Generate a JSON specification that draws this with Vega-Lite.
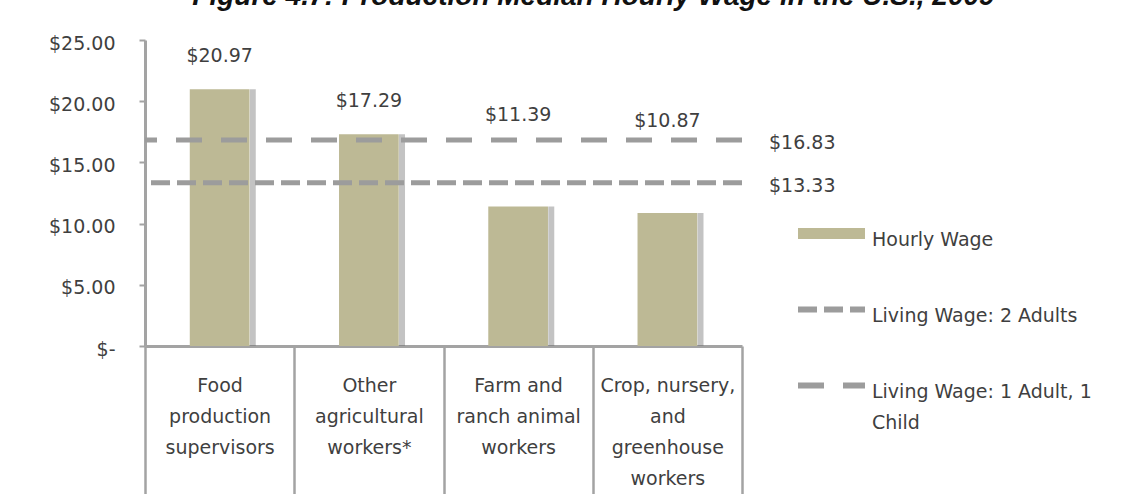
{
  "$schema": "https://vega.github.io/schema/vega-lite/v6.json",
  "width": 597,
  "height": 306,
  "autosize": {"type": "none"},
  "padding": {"left": 145, "top": 40, "right": 392, "bottom": 148},
  "title": {
    "text": "Figure 4.7: Production Median Hourly Wage in the U.S., 2009",
    "font": "Liberation Sans",
    "fontSize": 28,
    "fontWeight": "bold",
    "fontStyle": "italic",
    "color": "#111111",
    "anchor": "middle",
    "dx": 150,
    "offset": 23
  },
  "datasets": {
    "wages": [
      {"category": "Food production supervisors", "wage": 20.97},
      {"category": "Other agricultural workers*", "wage": 17.29},
      {"category": "Farm and ranch animal workers", "wage": 11.39},
      {"category": "Crop, nursery, and greenhouse workers", "wage": 10.87}
    ],
    "living": [
      {"series": "Living Wage: 1 Adult, 1 Child", "value": 16.83},
      {"series": "Living Wage: 2 Adults", "value": 13.33}
    ]
  },
  "config": {
    "view": {"stroke": null},
    "font": "DejaVu Sans",
    "axis": {"title": null, "grid": false}
  },
  "layer": [
    {
      "data": {"name": "wages"},
      "mark": {"type": "rule", "color": "#6a6a6a", "strokeWidth": 6, "opacity": 0.4},
      "encoding": {
        "x": {"field": "category", "type": "nominal", "bandPosition": 0.722, "title": null,
              "scale": {"domain": ["Food production supervisors", "Other agricultural workers*", "Farm and ranch animal workers", "Crop, nursery, and greenhouse workers"], "paddingInner": 0, "paddingOuter": 0}},
        "y": {"field": "wage", "type": "quantitative", "title": null, "scale": {"domain": [0, 25], "nice": false}},
        "y2": {"datum": 0}
      }
    },
    {
      "data": {"name": "wages"},
      "mark": {"type": "bar", "color": "#bdb995", "width": {"band": 0.4}},
      "encoding": {
        "x": {
          "field": "category", "type": "nominal", "sort": null, "title": null,
          "axis": {
            "tickBand": "extent",
            "tickSize": 148,
            "tickColor": "#a3a3a3",
            "tickWidth": 2.5,
            "domainColor": "#a3a3a3",
            "domainWidth": 3,
            "labelAngle": 0,
            "labelAlign": "center",
            "labelPadding": -118,
            "labelBaseline": "top",
            "labelLineHeight": 31,
            "labelFontSize": 19,
            "labelFont": "DejaVu Sans",
            "labelColor": "#3f3f3f",
            "labelLimit": 200,
            "labelExpr": "datum.value === 'Food production supervisors' ? ['Food','production','supervisors'] : datum.value === 'Other agricultural workers*' ? ['Other','agricultural','workers*'] : datum.value === 'Farm and ranch animal workers' ? ['Farm and','ranch animal','workers'] : datum.value === 'Crop, nursery, and greenhouse workers' ? ['Crop, nursery,','and','greenhouse','workers'] : datum.label"
          }
        },
        "y": {
          "field": "wage", "type": "quantitative", "title": null,
          "axis": {
            "values": [0, 5, 10, 15, 20, 25],
            "tickSize": 6,
            "tickColor": "#a3a3a3",
            "tickWidth": 2,
            "domainColor": "#a3a3a3",
            "domainWidth": 3,
            "labelPadding": 24,
            "labelOffset": 3,
            "labelFontSize": 19,
            "labelFont": "DejaVu Sans",
            "labelColor": "#3f3f3f",
            "labelExpr": "datum.value === 0 ? '$-' : format(datum.value, '$.2f')"
          }
        }
      }
    },
    {
      "data": {"name": "living"},
      "mark": {"type": "rule", "color": "#9c9c9c", "strokeWidth": 5},
      "encoding": {
        "y": {"field": "value", "type": "quantitative", "title": null},
        "strokeDash": {
          "field": "series", "type": "nominal",
          "scale": {"domain": ["Hourly Wage", "Living Wage: 2 Adults", "Living Wage: 1 Adult, 1 Child"], "range": [[1, 0], [19, 7], [26, 19]]},
          "legend": {
            "title": null,
            "orient": "none",
            "legendX": 652,
            "legendY": 160,
            "padding": 0,
            "symbolType": "stroke",
            "symbolSize": 4489,
            "symbolOffset": 25,
            "symbolStrokeWidth": 6,
            "symbolStrokeColor": "#9c9c9c",
            "clipHeight": 67,
            "rowPadding": 9,
            "labelOffset": 31,
            "labelFontSize": 19,
            "labelFont": "DejaVu Sans",
            "labelColor": "#3f3f3f",
            "labelBaseline": "top",
            "labelLimit": 400,
            "labelExpr": "datum.label === 'Living Wage: 1 Adult, 1 Child' ? ['Living Wage: 1 Adult, 1', 'Child'] : datum.label",
            "encode": {
              "symbols": {"update": {
                "stroke": {"signal": "datum.value === 'Hourly Wage' ? '#bdb995' : '#9c9c9c'"},
                "strokeWidth": {"signal": "datum.value === 'Hourly Wage' ? 11 : 6"}
              }},
              "labels": {"update": {"dy": {"value": -3}, "lineHeight": {"value": 31}}}
            }
          }
        }
      }
    },
    {
      "data": {"name": "wages"},
      "transform": [{"filter": "datum.wage > 15"}],
      "mark": {"type": "text", "fontSize": 19, "font": "DejaVu Sans", "color": "#3f3f3f", "baseline": "middle", "dy": -33},
      "encoding": {
        "x": {"field": "category", "type": "nominal", "title": null},
        "y": {"field": "wage", "type": "quantitative", "title": null},
        "text": {"field": "wage", "type": "quantitative", "format": "$.2f"}
      }
    },
    {
      "data": {"name": "wages"},
      "transform": [{"filter": "datum.wage < 15"}],
      "mark": {"type": "text", "fontSize": 19, "font": "DejaVu Sans", "color": "#3f3f3f", "baseline": "middle", "dy": -92},
      "encoding": {
        "x": {"field": "category", "type": "nominal", "title": null},
        "y": {"field": "wage", "type": "quantitative", "title": null},
        "text": {"field": "wage", "type": "quantitative", "format": "$.2f"}
      }
    },
    {
      "data": {"name": "living"},
      "mark": {"type": "text", "fontSize": 19, "font": "DejaVu Sans", "color": "#3f3f3f", "baseline": "middle", "align": "left", "dx": 27, "dy": 3},
      "encoding": {
        "x": {"datum": "Crop, nursery, and greenhouse workers", "type": "nominal", "bandPosition": 1, "title": null},
        "y": {"field": "value", "type": "quantitative", "title": null},
        "text": {"field": "value", "type": "quantitative", "format": "$.2f"}
      }
    }
  ]
}
